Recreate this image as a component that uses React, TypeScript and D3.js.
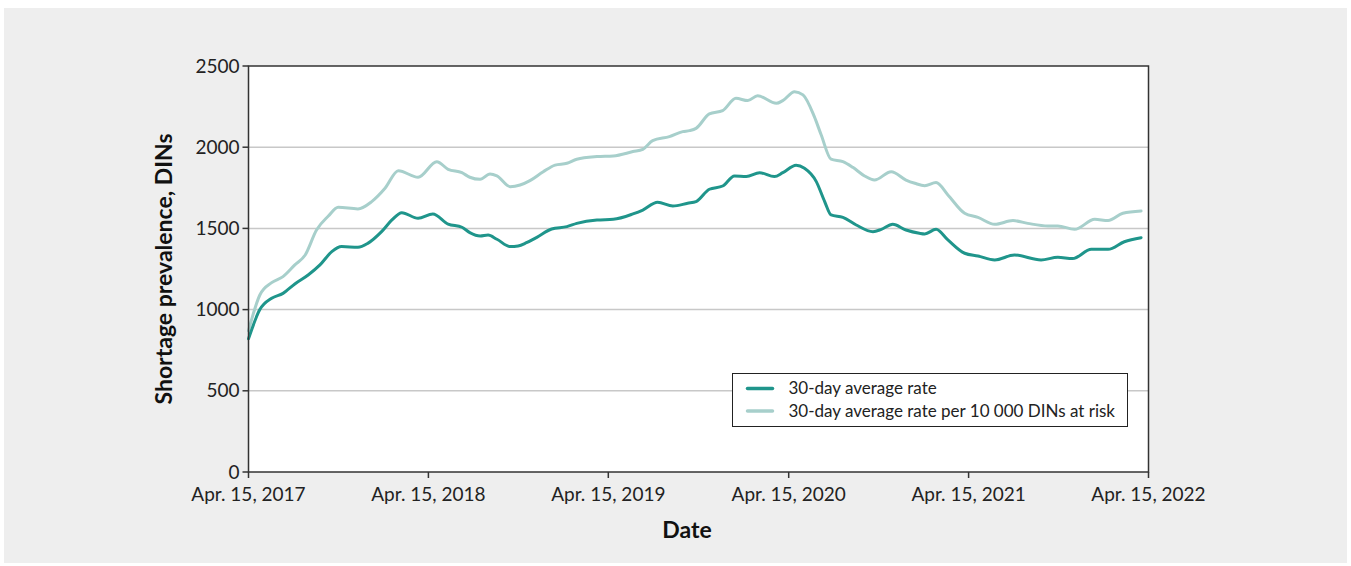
import * as d3 from 'd3';

const xTickDates = ['2017-04-15', '2018-04-15', '2019-04-15', '2020-04-15', '2021-04-15', '2022-04-15'];
const xTickLabels = ['Apr. 15, 2017', 'Apr. 15, 2018', 'Apr. 15, 2019', 'Apr. 15, 2020', 'Apr. 15, 2021', 'Apr. 15, 2022'];
const yTicks = [0, 500, 1000, 1500, 2000, 2500];

// 30-day average rate
const rateDates = [
  '2017-04-15', '2017-05-08', '2017-06-01', '2017-06-24', '2017-07-18', '2017-08-14', '2017-09-07',
  '2017-10-01', '2017-10-21', '2017-11-23', '2017-12-13', '2018-01-10', '2018-01-31', '2018-02-20',
  '2018-03-25', '2018-04-24', '2018-05-25', '2018-06-22', '2018-07-08', '2018-07-29', '2018-08-14',
  '2018-09-01', '2018-09-28', '2018-10-14', '2018-10-31', '2018-11-21', '2018-12-21', '2019-01-21',
  '2019-02-10', '2019-03-23', '2019-04-25', '2019-06-04', '2019-06-24', '2019-07-24', '2019-08-24',
  '2019-09-23', '2019-10-10', '2019-11-06', '2019-12-03', '2019-12-27', '2020-01-20', '2020-02-16',
  '2020-03-17', '2020-04-03', '2020-04-30', '2020-05-17', '2020-06-10', '2020-06-27', '2020-07-10',
  '2020-08-03', '2020-08-30', '2020-10-03', '2020-10-20', '2020-11-12', '2020-12-09', '2021-01-05',
  '2021-01-16', '2021-02-08', '2021-03-04', '2021-04-07', '2021-05-04', '2021-06-07', '2021-07-17',
  '2021-09-09', '2021-10-13', '2021-11-12', '2021-12-20', '2022-01-23', '2022-02-25', '2022-03-31',
];
const rateValues = [
  820, 1000, 1070, 1100, 1158, 1213, 1275,
  1357, 1388, 1384, 1408, 1480, 1552, 1597,
  1562, 1589, 1527, 1507, 1474, 1453, 1459,
  1433, 1388, 1392, 1412, 1445, 1496, 1511,
  1531, 1552, 1556, 1589, 1613, 1661, 1638,
  1655, 1665, 1741, 1761, 1823, 1819, 1843,
  1819, 1843, 1889, 1870, 1788, 1665, 1583,
  1568, 1521, 1480, 1494, 1525, 1490, 1470,
  1466, 1494, 1429, 1347, 1330, 1306, 1336,
  1306, 1322, 1314, 1371, 1371, 1418, 1443,
];

// 30-day average rate per 10 000 DINs at risk
const riskDates = [
  '2017-04-15', '2017-05-08', '2017-06-01', '2017-06-24', '2017-07-18', '2017-08-08', '2017-08-31',
  '2017-09-24', '2017-10-14', '2017-11-23', '2017-12-21', '2018-01-17', '2018-02-13', '2018-03-25',
  '2018-05-02', '2018-05-25', '2018-06-22', '2018-07-08', '2018-07-29', '2018-08-18', '2018-09-01',
  '2018-09-28', '2018-10-18', '2018-11-07', '2018-12-04', '2018-12-28', '2019-01-21', '2019-02-10',
  '2019-03-23', '2019-04-25', '2019-06-04', '2019-06-24', '2019-07-14', '2019-08-17', '2019-09-13',
  '2019-09-27', '2019-10-10', '2019-11-06', '2019-12-03', '2019-12-30', '2020-01-23', '2020-02-12',
  '2020-03-21', '2020-04-03', '2020-04-27', '2020-05-14', '2020-06-06', '2020-06-20', '2020-07-10',
  '2020-08-03', '2020-08-23', '2020-09-16', '2020-10-06', '2020-11-09', '2020-12-09', '2020-12-27',
  '2021-01-16', '2021-02-08', '2021-03-04', '2021-04-07', '2021-05-04', '2021-06-07', '2021-07-14',
  '2021-08-13', '2021-09-23', '2021-10-13', '2021-11-16', '2021-12-27', '2022-01-23', '2022-02-22',
  '2022-03-31',
];
const riskValues = [
  870, 1090, 1166, 1203, 1275, 1336, 1490,
  1576, 1630, 1620, 1665, 1747, 1855, 1815,
  1911, 1864, 1843, 1815, 1802, 1835, 1823,
  1757, 1767, 1794, 1849, 1890, 1901, 1926,
  1942, 1946, 1973, 1987, 2040, 2065, 2096,
  2102, 2116, 2205, 2225, 2301, 2287, 2317,
  2270, 2287, 2342, 2322, 2188, 2075, 1926,
  1911, 1876, 1823, 1798, 1849, 1798, 1778,
  1763, 1782, 1706, 1593, 1568, 1525, 1548,
  1531, 1515, 1515, 1494, 1556, 1548, 1593,
  1607,
];

const legendLabels = ['30-day average rate', '30-day average rate per 10 000 DINs at risk'];
const colors = ['#1f958b', '#a7cfcb'];

const W = 1351;
const H = 566;
const plot = { left: 248.5, right: 1148.5, top: 66, bottom: 472 };
const font = 'Lato, "Open Sans", sans-serif';
const parse = d3.utcParse('%Y-%m-%d');

export default function App() {
  const x = d3
    .scaleUtc()
    .domain([parse(xTickDates[0])!, parse(xTickDates[xTickDates.length - 1])!])
    .range([plot.left, plot.right]);
  const y = d3.scaleLinear().domain([0, 2500]).range([plot.bottom, plot.top]);

  const line = d3
    .line<[Date, number]>()
    .x((d) => x(d[0]))
    .y((d) => y(d[1]))
    .curve(d3.curveMonotoneX);

  const series = [
    rateDates.map((d, i) => [parse(d)!, rateValues[i]] as [Date, number]),
    riskDates.map((d, i) => [parse(d)!, riskValues[i]] as [Date, number]),
  ];

  const legend = { x: 732.5, y: 373.5, w: 395, h: 53 };

  return (
    <svg
      width={W}
      height={H}
      style={{ position: 'absolute', left: 0, top: 0, display: 'block' }}
      fontFamily={font}
    >
      <rect x={4} y={8} width={1343} height={555} fill="#eeeeee" />
      <rect
        x={plot.left}
        y={plot.top}
        width={plot.right - plot.left}
        height={plot.bottom - plot.top}
        fill="#ffffff"
      />

      {/* grid lines */}
      {yTicks.slice(1, -1).map((t) => (
        <line key={t} x1={plot.left} x2={plot.right} y1={y(t)} y2={y(t)} stroke="#c8c8c8" strokeWidth={1.5} />
      ))}

      {/* series, light one underneath */}
      {[1, 0].map((i) => (
        <path
          key={i}
          d={line(series[i]) || ''}
          fill="none"
          stroke={colors[i]}
          strokeWidth={3}
          strokeLinejoin="round"
          strokeLinecap="round"
        />
      ))}

      {/* frame */}
      <rect
        x={plot.left}
        y={plot.top}
        width={plot.right - plot.left}
        height={plot.bottom - plot.top}
        fill="none"
        stroke="#333333"
        strokeWidth={1.5}
      />

      {/* y axis */}
      {yTicks.map((t) => (
        <g key={t} transform={`translate(0,${y(t)})`}>
          <line x1={plot.left - 6} x2={plot.left} stroke="#333333" strokeWidth={1.5} />
          <text x={plot.left - 9} dy="0.35em" textAnchor="end" fontSize={19} fill="#222">
            {t}
          </text>
        </g>
      ))}

      {/* x axis */}
      {xTickDates.map((d, i) => (
        <g key={d} transform={`translate(${x(parse(d)!)},0)`}>
          <line y1={plot.bottom} y2={plot.bottom + 6} stroke="#333333" strokeWidth={1.5} />
          <text y={plot.bottom + 29} textAnchor="middle" fontSize={19} fill="#222">
            {xTickLabels[i]}
          </text>
        </g>
      ))}

      <text x={687} y={538} textAnchor="middle" fontSize={23} fontWeight="bold" fill="#111">
        Date
      </text>
      <text
        transform={`translate(172,${(plot.top + plot.bottom) / 2}) rotate(-90)`}
        textAnchor="middle"
        fontSize={23}
        fontWeight="bold"
        fill="#111"
      >
        Shortage prevalence, DINs
      </text>

      {/* legend */}
      <rect x={legend.x} y={legend.y} width={legend.w} height={legend.h} fill="#ffffff" stroke="#222" strokeWidth={1} />
      {legendLabels.map((label, i) => (
        <g key={label} transform={`translate(${legend.x},${legend.y + 15 + i * 22.5})`}>
          <line x1={15} x2={40} stroke={colors[i]} strokeWidth={3.5} strokeLinecap="round" />
          <text x={56} dy="0.35em" fontSize={17} fill="#222">
            {label}
          </text>
        </g>
      ))}
    </svg>
  );
}
